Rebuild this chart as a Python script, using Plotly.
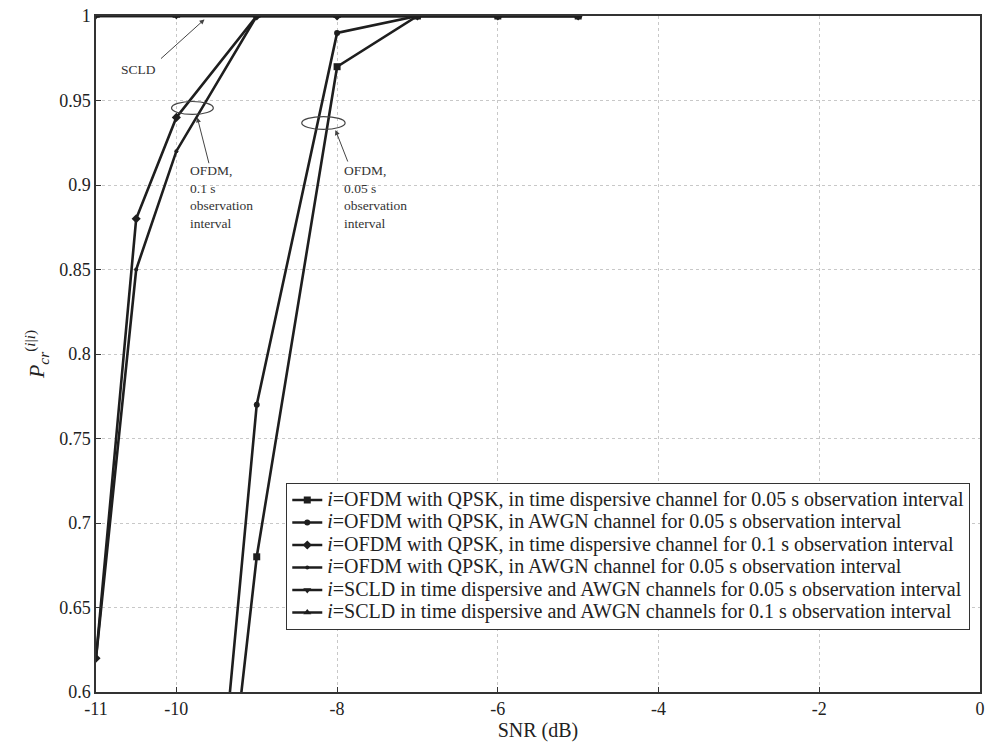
import plotly.graph_objects as go

# ---- data ----
snr_01 = [-11, -10.5, -10, -9, -8, -7, -6, -5]
td_01 = [0.62, 0.88, 0.94, 1, 1, 1, 1, 1]      # time dispersive, 0.1 s
awgn_01 = [0.62, 0.85, 0.92, 1, 1, 1, 1, 1]    # AWGN, 0.1 s

snr_005 = [-10, -9, -8, -7, -6, -5]
td_005 = [0.26, 0.68, 0.97, 1, 1, 1]           # time dispersive, 0.05 s
awgn_005 = [0.26, 0.77, 0.99, 1, 1, 1]         # AWGN, 0.05 s

snr_scld = [-11, -10, -9, -8, -7, -6, -5]
scld_005 = [1, 1, 1, 1, 1, 1, 1]
scld_01 = [1, 1, 1, 1, 1, 1, 1]

x_ticks = [-11, -10, -8, -6, -4, -2, 0]
x_ticktext = ["-11", "-10", "-8", "-6", "-4", "-2", "0"]
y_ticks = [0.6, 0.65, 0.7, 0.75, 0.8, 0.85, 0.9, 0.95, 1.0]
y_ticktext = ["0.6", "0.65", "0.7", "0.75", "0.8", "0.85", "0.9", "0.95", "1"]

names = [
    "<i>i</i>=OFDM with QPSK, in time dispersive channel for 0.05 s observation interval",
    "<i>i</i>=OFDM with QPSK, in AWGN channel for 0.05 s observation interval",
    "<i>i</i>=OFDM with QPSK, in time dispersive channel for 0.1 s observation interval",
    "<i>i</i>=OFDM with QPSK, in AWGN channel for 0.05 s observation interval",
    "<i>i</i>=SCLD in time dispersive and AWGN channels for 0.05 s observation interval",
    "<i>i</i>=SCLD in time dispersive and AWGN channels for 0.1 s observation interval",
]

FONT = "Liberation Serif"
INK = "#1e1e1e"

series = [
    (snr_005, td_005, "square", 7),
    (snr_005, awgn_005, "circle", 6),
    (snr_01, td_01, "diamond", 7),
    (snr_01, awgn_01, "circle", 4),
    (snr_scld, scld_005, "triangle-down", 7),
    (snr_scld, scld_01, "triangle-up", 7),
]

fig = go.Figure()
for (xs, ys, sym, sz), nm in zip(series, names):
    fig.add_trace(go.Scatter(
        x=xs, y=ys, name='<span style="font-size:20px">' + nm + '</span>',
        mode="lines+markers",
        line=dict(color=INK, width=2.6),
        marker=dict(symbol=sym, size=sz, color=INK),
    ))

# annotations
small = dict(family=FONT, size=13.5, color="#333333")
arrow = dict(xref="x", yref="y", axref="x", ayref="y", text="", showarrow=True,
             arrowhead=2, arrowsize=1, arrowwidth=1, arrowcolor="#444444")
ann = []
ann.append(dict(x=-10.47, y=0.9686, xref="x", yref="y", text="SCLD", showarrow=False,
                font=small, xanchor="center", yanchor="middle"))
ann.append(dict(arrow, x=-9.65, y=0.998, ax=-10.21, ay=0.974))
ann.append(dict(arrow, x=-9.74, y=0.9400, ax=-9.59, ay=0.912))
ann.append(dict(arrow, x=-8.02, y=0.9325, ax=-7.86, ay=0.913))
ann.append(dict(x=-9.85, y=0.914, xref="x", yref="y", xanchor="left", yanchor="top", align="left",
                text="OFDM,<br>0.1 s<br>observation<br>interval", showarrow=False, font=small))
ann.append(dict(x=-7.94, y=0.914, xref="x", yref="y", xanchor="left", yanchor="top", align="left",
                text="OFDM,<br>0.05 s<br>observation<br>interval", showarrow=False, font=small))

shapes = [
    dict(type="circle", xref="x", yref="y", x0=-10.06, x1=-9.54, y0=0.9418, y1=0.9494,
         line=dict(color="#444444", width=1.2)),
    dict(type="circle", xref="x", yref="y", x0=-8.44, x1=-7.90, y0=0.9329, y1=0.9405,
         line=dict(color="#444444", width=1.2)),
]

fig.update_layout(
    width=991, height=744,
    margin=dict(l=96, r=6, t=16, b=52),
    paper_bgcolor="white", plot_bgcolor="white",
    font=dict(family=FONT, size=16, color="#222222"),
    showlegend=True,
    legend=dict(x=0.989, xanchor="right", y=0.092, yanchor="bottom",
                bgcolor="white", bordercolor="#333333", borderwidth=1,
                font=dict(family=FONT, size=15, color="#222222"),
                tracegroupgap=0, itemwidth=30),
    annotations=ann, shapes=shapes,
)
fig.update_xaxes(range=[-11, 0], tickvals=x_ticks, ticktext=x_ticktext,
                 showgrid=True, gridcolor="#c8c8c8", griddash="dot", gridwidth=1,
                 showline=True, linecolor="#333333", linewidth=1.5, mirror=True,
                 ticks="inside", ticklen=5, tickcolor="#333333",
                 zeroline=False,
                 tickfont=dict(family=FONT, size=18, color="#222222"),
                 title=dict(text="SNR (dB)", font=dict(family=FONT, size=20, color="#222222"), standoff=3))
fig.update_yaxes(range=[0.6, 1.0], tickvals=y_ticks, ticktext=y_ticktext,
                 showgrid=True, gridcolor="#c8c8c8", griddash="dot", gridwidth=1,
                 showline=True, linecolor="#333333", linewidth=1.5, mirror=True,
                 ticks="inside", ticklen=5, tickcolor="#333333",
                 zeroline=False,
                 tickfont=dict(family=FONT, size=18, color="#222222"),
                 title=dict(text="<i>P</i><sub><i>cr</i></sub><sup>(<i>i</i>|<i>i</i>)</sup>",
                            font=dict(family=FONT, size=22, color="#222222"), standoff=8))

fig.write_html("out.html")
